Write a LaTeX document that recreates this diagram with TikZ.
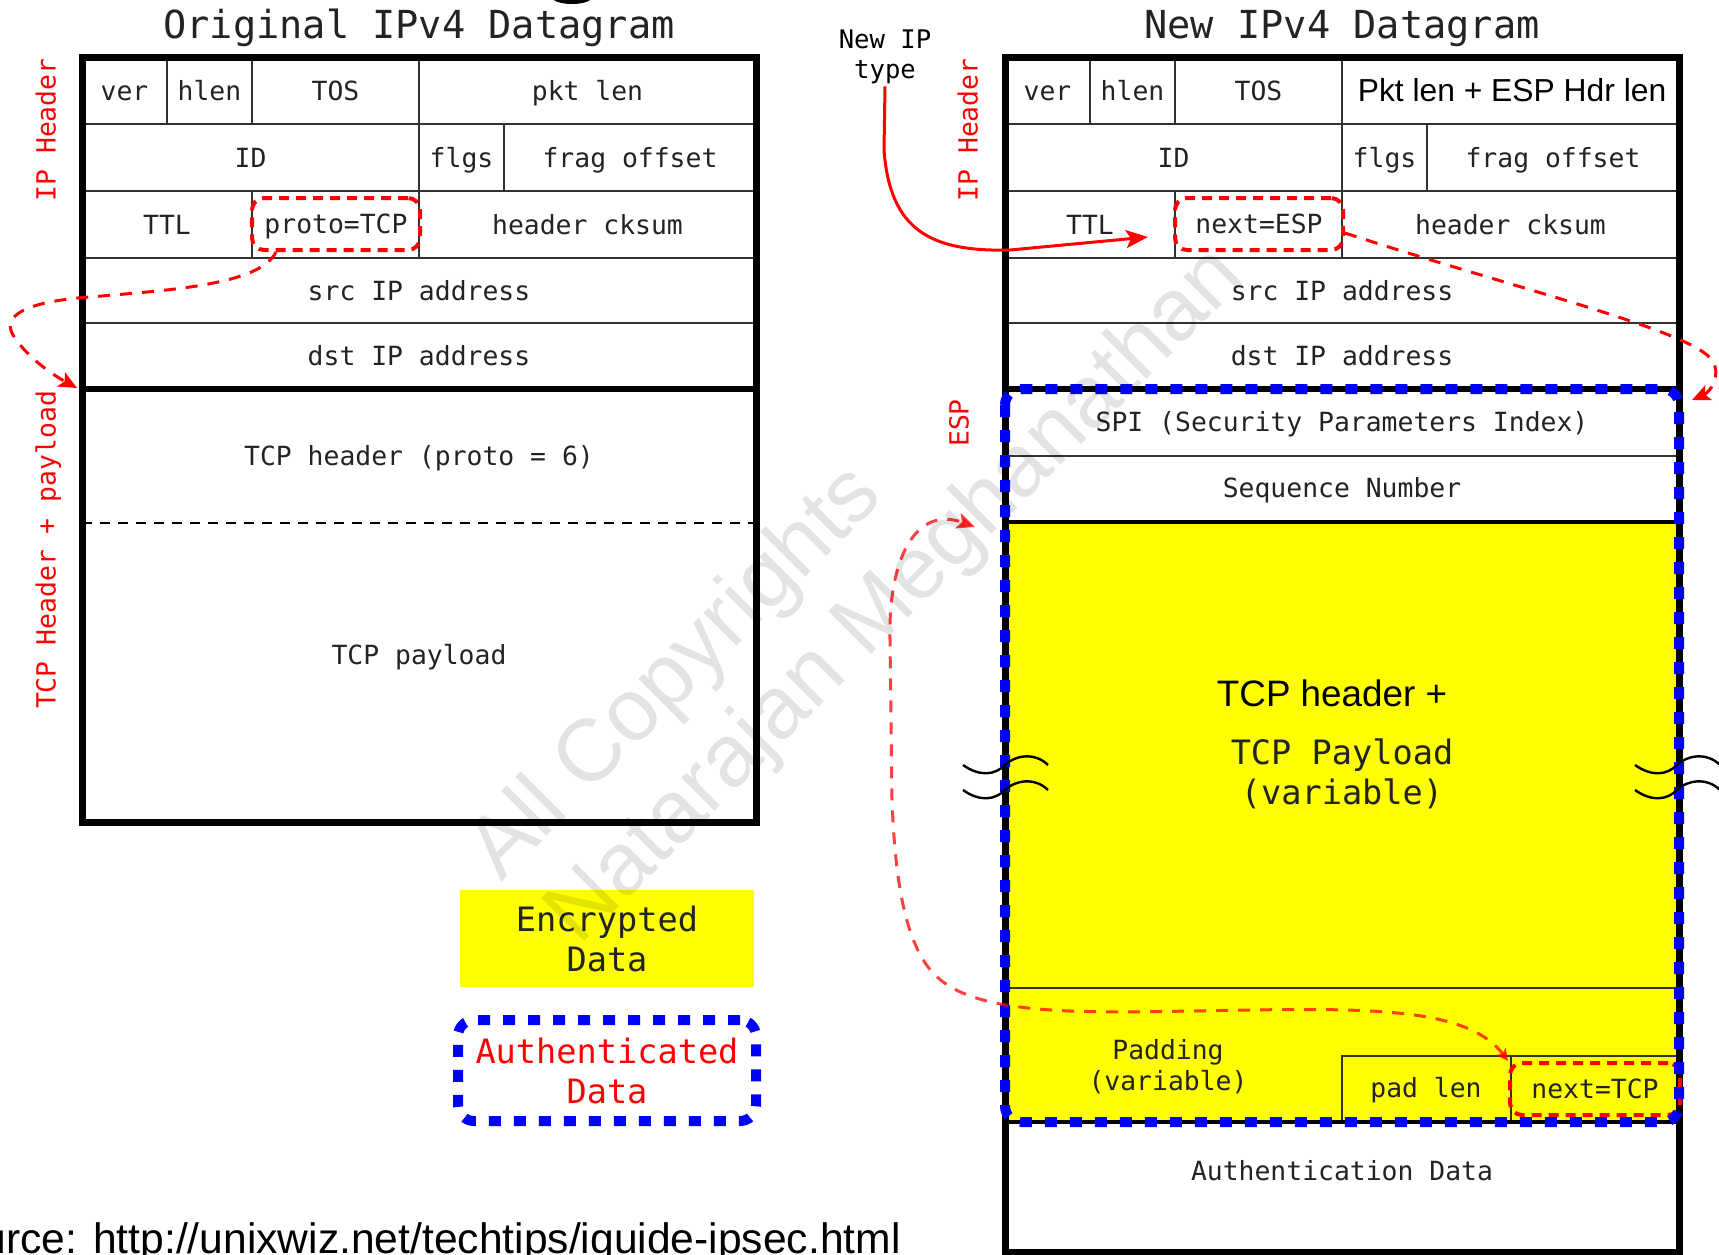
\documentclass[tikz,border=0pt]{standalone}
\usepackage{fontspec}
\setmainfont{Liberation Sans}
\setmonofont{DejaVu Sans Mono}
\usetikzlibrary{arrows.meta}

\definecolor{ipyellow}{RGB}{255,255,0}
\definecolor{ipblue}{RGB}{0,0,255}
\definecolor{ipred}{RGB}{255,0,0}
\definecolor{celltext}{RGB}{35,35,35}
\definecolor{gridline}{RGB}{50,50,50}

\tikzset{
  cell/.style={font=\ttfamily\fontsize{13.2}{15}\selectfont, text=celltext,
    inner sep=0pt, text height=9.6pt, text depth=0pt, anchor=center},
  bigcell/.style={font=\ttfamily\fontsize{16.8}{20}\selectfont, text=celltext,
    inner sep=0pt, text height=12.2pt, text depth=0pt, anchor=center},
  title/.style={font=\ttfamily\fontsize{19.3}{22}\selectfont, text=celltext,
    inner sep=0pt, text height=14.1pt, text depth=0pt, anchor=center},
  sidelabel/.style={font=\ttfamily\fontsize{13.2}{15}\selectfont, text=ipred,
    inner sep=0pt, text height=9.6pt, text depth=0pt, anchor=center, rotate=90},
  outerline/.style={line width=3.5pt, black},
  gthin/.style={line width=1.3pt, gridline},
  gthick/.style={line width=3pt, black},
  gmedium/.style={line width=2pt, black},
  redbox/.style={draw=ipred, line width=2pt, dash pattern=on 5pt off 3.5pt,
    rounded corners=6pt, inner sep=0pt},
  authbox/.style={draw=ipblue, line width=5pt, dash pattern=on 6pt off 6.5pt,
    rounded corners=8pt},
  redlink/.style={draw=ipred, line width=1.5pt, dash pattern=on 6pt off 5pt},
  redtip/.style={-{Stealth[length=9pt,width=8pt,inset=2pt]}},
  wave/.style={line width=1.2pt, black},
  wmark/.style={text=black, text opacity=0.11, inner sep=0pt,
    font=\fontsize{44}{50}\selectfont, rotate=45},
}

\begin{document}
\begin{tikzpicture}[x=0.5pt, y=-0.5pt]
\useasboundingbox (0,0) rectangle (1719,1254);
\clip (0,0) rectangle (1719,1254);

% cut-off glyph at the top edge
\fill[black] (572,-3) ellipse [x radius=20, y radius=7];

% ---------------- titles ----------------
\node[title] (ttlorig) at (419,24) {Original IPv4 Datagram};
\node[title] (ttlnew) at (1342,24) {New IPv4 Datagram};

% ---------------- original datagram ----------------
\draw[gthin] (82,124) -- (756,124) (82,191) -- (756,191)
            (82,258) -- (756,258) (82,323) -- (756,323);
\draw[gthin] (167,57) -- (167,124) (252,57) -- (252,124) (419,57) -- (419,124)
            (419,124) -- (419,191) (504,124) -- (504,191)
            (252,191) -- (252,258) (419,191) -- (419,258);
\draw[gthick] (82,389) -- (756,389);
\draw[line width=1.1pt, black, dash pattern=on 5pt off 4pt] (82,523) -- (756,523);
\draw[outerline] (82,57) rectangle (756,822);

\node[cell] (o-ver)  at (124.5,90.5) {ver};
\node[cell] (o-hlen) at (209.5,90.5) {hlen};
\node[cell] (o-tos)  at (335.5,90.5) {TOS};
\node[cell] (o-len)  at (587.5,90.5) {pkt len};
\node[cell] (o-id)   at (250.5,157.5) {ID};
\node[cell] (o-flg)  at (461.5,157.5) {flgs};
\node[cell] (o-frag) at (630,157.5) {frag offset};
\node[cell] (o-ttl)  at (167,224.5) {TTL};
\node[cell, redbox, minimum width=84pt, minimum height=26pt] (proto) at (336,224) {proto=TCP};
\node[cell] (o-ck)   at (587.5,224.5) {header cksum};
\node[cell] (o-src)  at (419,290.5) {src IP address};
\node[cell] (o-dst)  at (419,356) {dst IP address};
\node[cell] (o-tcph) at (419,456) {TCP header (proto = 6)};
\node[cell] (o-tcpp) at (419,655) {TCP payload};

\node[sidelabel] (o-iph) at (46,130) {IP Header};
\node[sidelabel] (o-tcpl) at (46,550) {TCP Header + payload};

% ---------------- new datagram ----------------
\fill[ipyellow] (1005,522) rectangle (1679,1122);
\draw[gthin] (1005,124) -- (1679,124) (1005,191) -- (1679,191)
            (1005,258) -- (1679,258) (1005,323) -- (1679,323);
\draw[gthin] (1090,57) -- (1090,124) (1175,57) -- (1175,124) (1342,57) -- (1342,124)
            (1342,124) -- (1342,191) (1427,124) -- (1427,191)
            (1175,191) -- (1175,258) (1342,191) -- (1342,258);
\draw[gthick] (1005,389) -- (1679,389);
\draw[gthin] (1005,456) -- (1679,456);
\draw[gmedium] (1005,522) -- (1679,522);
\draw[gthin] (1005,988) -- (1679,988);
\draw[gthin] (1342,1122) -- (1342,1056) -- (1679,1056) (1511,1056) -- (1511,1122);
\draw[gmedium] (1005,1122) -- (1679,1122);
\draw[outerline] (1005,57) rectangle (1679,1252);

\node[cell] (n-ver)  at (1047.5,90.5) {ver};
\node[cell] (n-hlen) at (1132.5,90.5) {hlen};
\node[cell] (n-tos)  at (1258.5,90.5) {TOS};
\node[font=\fontsize{15.9}{18}\selectfont, inner sep=0pt, text height=11.4pt, text depth=0pt]
  (n-len) at (1512,90.5) {Pkt len + ESP Hdr len};
\node[cell] (n-id)   at (1173.5,157.5) {ID};
\node[cell] (n-flg)  at (1384.5,157.5) {flgs};
\node[cell] (n-frag) at (1553,157.5) {frag offset};
\node[cell] (n-ttl)  at (1090,224.5) {TTL};
\node[cell, redbox, minimum width=84pt, minimum height=26pt] (nextesp) at (1259,224) {next=ESP};
\node[cell] (n-ck)   at (1510.5,224.5) {header cksum};
\node[cell] (n-src)  at (1342,290.5) {src IP address};
\node[cell] (n-dst)  at (1342,356) {dst IP address};
\node[cell] (n-spi)  at (1342,422) {SPI (Security Parameters Index)};
\node[cell] (n-seq)  at (1342,488) {Sequence Number};
\node[font=\fontsize{18.4}{21}\selectfont, inner sep=0pt, text height=13.2pt, text depth=0pt]
  (n-tcph) at (1332,693) {TCP header +};
\node[bigcell] (n-tcpp) at (1342,752) {TCP Payload};
\node[bigcell] (n-var)  at (1342,792) {(variable)};
\node[cell] (n-pad)  at (1168,1050) {Padding};
\node[cell] (n-padv) at (1168,1081) {(variable)};
\node[cell] (n-plen) at (1426,1088) {pad len};
\node[cell, redbox, minimum width=85pt, minimum height=26pt] (nexttcp) at (1595,1089) {next=TCP};
\node[cell] (n-auth) at (1342,1171) {Authentication Data};

\node[sidelabel] (n-iph) at (968,130) {IP Header};
\node[sidelabel] (n-esp) at (959,423) {ESP};

% authenticated part of the ESP packet
\draw[authbox] (1005,389) rectangle (1679,1122);

% "variable length" break marks
\foreach \yy in {765,790} {
  \draw[wave] (963,\yy) .. controls (980,\yy+12) and (995,\yy+10) .. (1005,\yy)
              .. controls (1015,\yy-10) and (1035,\yy-13) .. (1048,\yy);
  \draw[wave] (1635,\yy) .. controls (1652,\yy+12) and (1667,\yy+10) .. (1677,\yy)
              .. controls (1687,\yy-10) and (1707,\yy-13) .. (1720,\yy);
}

% ---------------- "New IP type" pointer ----------------
\node[font=\ttfamily\fontsize{12.8}{15}\selectfont, text=black, align=center, inner sep=1pt]
  (newip) at (885,57) {New IP\\type};
\coordinate (ttlpt) at (1148,237);
\draw[ipred, line width=1.5pt, -{Stealth[length=11pt,width=9pt,inset=2.5pt]}]
  (newip.south) -- (884,150) .. controls (890,230) and (930,252) .. (1010,250) -- (ttlpt);

% ---------------- protocol links ----------------
\coordinate (tcpsec) at (77,388);
\draw[redlink, redtip] (proto.205) .. controls (260,285) and (170,290) .. (90,297)
  .. controls (20,302) and (0,318) .. (15,338) .. controls (30,360) and (55,376) .. (tcpsec);

\coordinate (espsec) at (1692,400);
\draw[redlink, redtip] (nextesp.-6) .. controls (1520,290) and (1690,330) .. (1712,360)
  .. controls (1722,376) and (1710,392) .. (espsec);

\coordinate (payin) at (975,527);
\draw[redlink, opacity=0.75, {Stealth[length=6pt,width=6pt,inset=1.5pt]}-{Stealth[length=9pt,width=8pt,inset=2pt]}]
  (nexttcp.north west) .. controls (1470,1010) and (1380,1008) .. (1250,1010)
  .. controls (1100,1012) and (980,1020) .. (935,975)
  .. controls (905,945) and (895,880) .. (892,800)
  -- (890,640) .. controls (888,560) and (915,505) .. (payin);

% ---------------- legend ----------------
\node[fill=ipyellow, minimum width=147pt, minimum height=48.5pt, inner sep=0pt,
  font=\ttfamily\fontsize{16.8}{20}\selectfont, text=celltext, align=center]
  (encleg) at (607,938.5) {Encrypted\\Data};
\node[authbox, draw, minimum width=149pt, minimum height=50.5pt, inner sep=0pt,
  font=\ttfamily\fontsize{16.8}{20}\selectfont, text=ipred, align=center]
  (authleg) at (607,1070.5) {Authenticated\\Data};

% ---------------- source line ----------------
\node[anchor=base east, inner sep=0pt, font=\fontsize{21.3}{25}\selectfont]
  (source) at (901,1253) {Source: http://unixwiz.net/techtips/iguide-ipsec.html};

% ---------------- watermark ----------------
\node[wmark] (wm1) at (677,674) {All Copyrights};
\node[wmark] (wm2) at (897,597) {Natarajan Meghanathan};
\end{tikzpicture}
\end{document}
